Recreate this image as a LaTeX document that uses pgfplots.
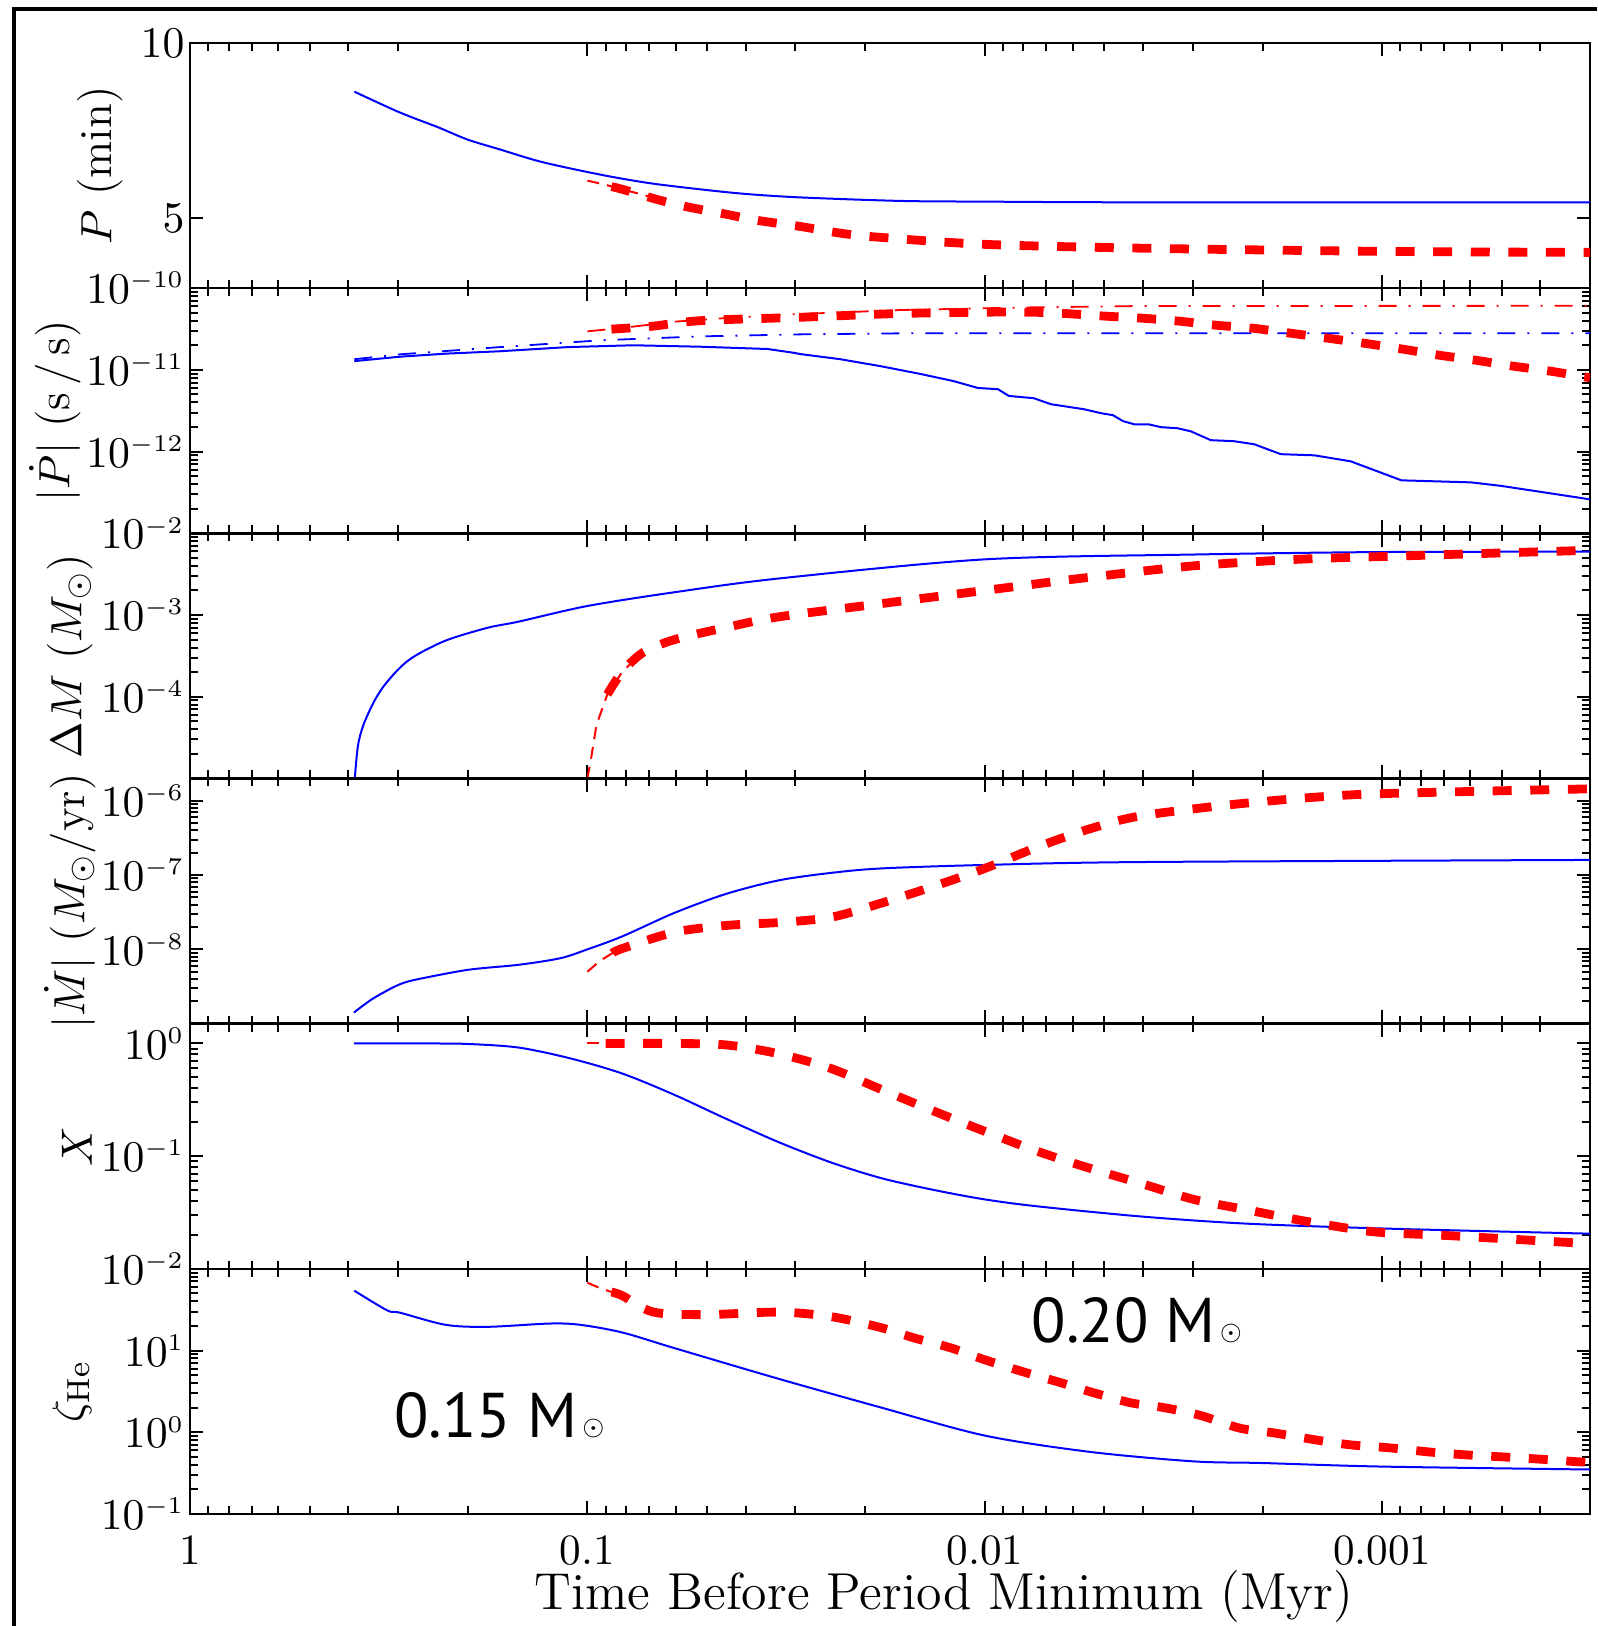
\documentclass[border=0pt]{standalone}
\usepackage{fontspec}
\usepackage{pgfplots}
\pgfplotsset{compat=1.18}
\newfontfamily\annfont{PT Sans}
\DeclareMathSizes{10.8}{10.8}{6.5}{5}

\tikzset{
 blueline/.style={blue, line width=0.5pt},
 bluedd/.style={blue, line width=0.45pt, dash pattern=on 4.5pt off 3pt on 0.5pt off 3pt},
 reddd/.style={red, line width=0.45pt, dash pattern=on 4.5pt off 3pt on 0.5pt off 3pt},
 redthick/.style={red, line width=2.2pt, dash pattern=on 4.75pt off 4.65pt},
 redthin/.style={red, line width=0.5pt, dash pattern=on 3pt off 2pt},
}
\pgfplotsset{
 stackpanel/.style={
  x dir=reverse, xmin=3e-4, xmax=1,
  scale only axis, width=350pt, height=61.29pt,
  tick align=inside,
  axis line style={line width=0.6pt},
  every tick/.style={black, line width=0.5pt},
  major tick length=3.3pt, minor tick length=2pt,
  xtick={1,0.1,0.01,0.001}, xticklabels={},
  minor xtick={0.2,0.3,0.4,0.5,0.6,0.7,0.8,0.9,0.02,0.03,0.04,0.05,0.06,0.07,0.08,0.09,0.002,0.003,0.004,0.005,0.006,0.007,0.008,0.009,0.0003,0.0004,0.0005,0.0006,0.0007,0.0008,0.0009},
  tick label style={font=\fontsize{10.8}{12}\selectfont},
  yticklabel style={inner sep=1.2pt},
  xticklabel style={yshift=-1.8pt},
  ylabel style={font=\fontsize{11.4}{13}\selectfont, anchor=center},
 },
}

\begin{document}
\begin{tikzpicture}
\useasboundingbox (0,0) rectangle (399.25pt,406.5pt);
\draw[line width=0.8pt] (3.5pt,0) -- (3.5pt,404.25pt) -- (399.25pt,404.25pt);

% Panel 1: P
\begin{semilogxaxis}[stackpanel, name=p1, at={(47.5pt,395.75pt)}, anchor=north west,
  ymin=3, ymax=10, ytick={5,10}, ylabel={$P$ (min)},
  ylabel style={at={(axis description cs:-0.0643,0.5)}}]
\addplot[blueline, smooth] coordinates {(0.386,8.61) (0.34,8.32) (0.30,8.04) (0.271,7.84) (0.236,7.58) (0.2,7.24) (0.166,6.96) (0.13,6.6) (0.0927,6.24) (0.07,6.0) (0.0519,5.82) (0.04,5.69) (0.0291,5.59) (0.0163,5.49) (0.01,5.47) (0.004,5.45) (0.0003,5.45)};
\addplot[redthin] coordinates {(0.1,6.07) (0.09,5.95) (0.0816,5.82) (0.07,5.62)};
\addplot[redthick, smooth] coordinates {(0.087,5.9) (0.0816,5.82) (0.0667,5.53) (0.0566,5.33) (0.0457,5.13) (0.0371,4.93) (0.0291,4.76) (0.0228,4.56) (0.0183,4.45) (0.01,4.25) (0.004,4.14) (0.001,4.05) (0.0003,4.02)};
\end{semilogxaxis}

% Panel 2: |Pdot|
\begin{loglogaxis}[stackpanel, name=p2, at={(p1.south west)}, anchor=north west,
  ymin=1e-13, ymax=1e-10, ytick={1e-13,1e-12,1e-11,1e-10},
  yticklabels={{},$10^{-12}$,$10^{-11}$,$10^{-10}$},
  ylabel={$|\dot{P}|$ (s\,/\,s)},
  ylabel style={at={(axis description cs:-0.0964,0.5)}}]
\addplot[blueline] coordinates {(0.386,1.28e-11) (0.296,1.45e-11) (0.227,1.58e-11) (0.166,1.69e-11) (0.112,1.9e-11) (0.0766,2.0e-11) (0.0519,1.92e-11) (0.0352,1.8e-11) (0.0303,1.62e-11) (0.0291,1.56e-11) (0.0231,1.35e-11) (0.0183,1.11e-11) (0.0145,8.9e-12) (0.012,7.3e-12) (0.0104,6.0e-12) (0.00927,5.8e-12) (0.0087,4.8e-12) (0.00753,4.5e-12) (0.00682,3.8e-12) (0.00563,3.3e-12) (0.0051,2.95e-12) (0.00476,2.79e-12) (0.00449,2.36e-12) (0.00421,2.16e-12) (0.00388,2.16e-12) (0.0036,1.99e-12) (0.00327,1.93e-12) (0.00303,1.77e-12) (0.0027,1.38e-12) (0.00236,1.34e-12) (0.0021,1.23e-12) (0.0018,9.3e-13) (0.00148,9.0e-13) (0.0012,7.6e-13) (0.000895,4.45e-13) (0.000597,4.2e-13) (0.000501,3.8e-13) (0.000315,2.7e-13) (0.0003,2.6e-13)};
\addplot[bluedd] coordinates {(0.386,1.35e-11) (0.296,1.55e-11) (0.166,1.9e-11) (0.0927,2.3e-11) (0.0519,2.57e-11) (0.0291,2.72e-11) (0.0163,2.8e-11) (0.0003,2.81e-11)};
\addplot[reddd] coordinates {(0.1,2.96e-11) (0.08,3.3e-11) (0.06,3.9e-11) (0.045,4.3e-11) (0.03,4.8e-11) (0.0163,5.4e-11) (0.008,5.8e-11) (0.004,6.05e-11) (0.0003,6.08e-11)};
\addplot[redthick, smooth] coordinates {(0.087,3.15e-11) (0.0694,3.4e-11) (0.0519,4.0e-11) (0.0291,4.4e-11) (0.0163,4.9e-11) (0.00912,5.1e-11) (0.00682,5.0e-11) (0.00496,4.54e-11) (0.00405,4.3e-11) (0.00325,3.95e-11) (0.00262,3.52e-11) (0.00211,3.23e-11) (0.00169,2.8e-11) (0.00137,2.44e-11) (0.00111,2.12e-11) (0.000885,1.79e-11) (0.000718,1.51e-11) (0.00058,1.31e-11) (0.000468,1.11e-11) (0.000375,9.6e-12) (0.0003,8.0e-12)};
\end{loglogaxis}

% Panel 3: Delta M
\begin{loglogaxis}[stackpanel, name=p3, at={(p2.south west)}, anchor=north west,
  ymin=1e-5, ymax=1e-2, ytick={1e-5,1e-4,1e-3,1e-2},
  yticklabels={{},$10^{-4}$,$10^{-3}$,$10^{-2}$},
  ylabel={$\Delta M$ ($M_\odot$)},
  ylabel style={at={(axis description cs:-0.0857,0.5)}}]
\addplot[blueline, smooth] coordinates {(0.385,1e-5) (0.378,2.5e-5) (0.3665,4.47e-5) (0.3453,8.5e-5) (0.325,1.36e-4) (0.297,2.24e-4) (0.2716,3.16e-4) (0.2266,4.9e-4) (0.178,7.0e-4) (0.149,8.3e-4) (0.1,1.29e-3) (0.0604,1.9e-3) (0.033,2.8e-3) (0.01,4.8e-3) (0.00298,5.5e-3) (0.001,5.9e-3) (0.0003,5.95e-3)};
\addplot[redthin] coordinates {(0.1,1e-5) (0.0977,1.86e-5) (0.0949,4.5e-5) (0.0891,1.07e-4) (0.0816,2.04e-4) (0.075,3e-4)};
\addplot[redthick, smooth] coordinates {(0.0891,1.07e-4) (0.0816,2.04e-4) (0.0723,3.5e-4) (0.0604,5.0e-4) (0.045,7e-4) (0.033,9.5e-4) (0.0182,1.38e-3) (0.01,2.0e-3) (0.00544,2.9e-3) (0.00298,4.0e-3) (0.00164,4.8e-3) (0.001,5.2e-3) (0.0003,6.2e-3)};
\end{loglogaxis}

% Panel 4: |Mdot|
\begin{loglogaxis}[stackpanel, name=p4, at={(p3.south west)}, anchor=north west,
  ymin=1e-9, ymax=2e-6, ytick={1e-9,1e-8,1e-7,1e-6},
  yticklabels={{},$10^{-8}$,$10^{-7}$,$10^{-6}$},
  ylabel={$|\dot{M}|$ ($M_\odot$/yr)},
  ylabel style={at={(axis description cs:-0.0857,0.5)}}]
\addplot[blueline, smooth] coordinates {(0.387,1.41e-9) (0.35,2.1e-9) (0.315,2.9e-9) (0.296,3.4e-9) (0.271,3.9e-9) (0.2,5.3e-9) (0.149,6.2e-9) (0.117,7.6e-9) (0.1,1.0e-8) (0.0816,1.5e-8) (0.0604,3.1e-8) (0.0447,5.6e-8) (0.033,8.5e-8) (0.0244,1.07e-7) (0.0182,1.23e-7) (0.01,1.37e-7) (0.004,1.5e-7) (0.0003,1.6e-7)};
\addplot[redthin] coordinates {(0.1,5.0e-9) (0.093,7e-9) (0.0865,8.9e-9) (0.08,1.05e-8)};
\addplot[redthick, smooth] coordinates {(0.0865,8.9e-9) (0.0816,1.03e-8) (0.0604,1.7e-8) (0.0447,2.1e-8) (0.033,2.3e-8) (0.0244,2.7e-8) (0.0182,4.2e-8) (0.0134,7.1e-8) (0.01,1.23e-7) (0.00735,2.4e-7) (0.00544,4.2e-7) (0.00403,6.3e-7) (0.00221,9.3e-7) (0.00121,1.2e-6) (0.000662,1.32e-6) (0.0003,1.45e-6)};
\end{loglogaxis}

% Panel 5: X
\begin{loglogaxis}[stackpanel, name=p5, at={(p4.south west)}, anchor=north west,
  ymin=1e-2, ymax=1.5, ytick={1e-2,1e-1,1},
  yticklabels={$10^{-2}$,$10^{-1}$,$10^{0}$},
  ylabel={$X$},
  ylabel style={at={(axis description cs:-0.0807,0.5)}}]
\addplot[blueline, smooth] coordinates {(0.387,1.0) (0.25,1.0) (0.2,0.99) (0.149,0.92) (0.11,0.735) (0.0816,0.54) (0.0604,0.35) (0.0447,0.214) (0.033,0.133) (0.0244,0.088) (0.0182,0.0637) (0.0134,0.050) (0.01,0.0413) (0.00735,0.0358) (0.00403,0.0291) (0.00221,0.0252) (0.001,0.0228) (0.0003,0.0205)};
\addplot[redthin] coordinates {(0.1,1.0) (0.085,1.0)};
\addplot[redthick, smooth] coordinates {(0.09,1.0) (0.0604,1.0) (0.0447,0.97) (0.033,0.81) (0.0244,0.60) (0.0182,0.39) (0.0134,0.25) (0.01,0.166) (0.00735,0.11) (0.00544,0.078) (0.00403,0.057) (0.00298,0.0413) (0.00221,0.0336) (0.00164,0.0273) (0.00121,0.0228) (0.001,0.021) (0.000662,0.0196) (0.0003,0.0167)};
\end{loglogaxis}

% Panel 6: zeta_He
\begin{loglogaxis}[stackpanel, name=p6, at={(p5.south west)}, anchor=north west,
  ymin=0.1, ymax=100, ytick={0.1,1,10,100},
  yticklabels={$10^{-1}$,$10^{0}$,$10^{1}$,{}},
  xticklabels={1,0.1,0.01,0.001},
  ylabel={$\zeta_{\mathrm{He}}$},
  ylabel style={at={(axis description cs:-0.0843,0.5)}},
  xlabel={Time Before Period Minimum (Myr)},
  xlabel style={font=\fontsize{13}{15}\selectfont, at={(axis description cs:0.5386,0)}, anchor=base, yshift=-24pt}]
\addplot[blueline, smooth] coordinates {(0.386,54) (0.319,31) (0.296,29) (0.227,20.6) (0.178,19.5) (0.124,21.4) (0.104,20.6) (0.0816,16.6) (0.0604,10.7) (0.033,4.5) (0.0182,2.0) (0.01,0.91) (0.00544,0.575) (0.00298,0.44) (0.002,0.42) (0.001,0.38) (0.0003,0.35)};
\addplot[redthin] coordinates {(0.1,67.6) (0.093,58) (0.087,52) (0.08,44)};
\addplot[redthick, smooth] coordinates {(0.087,52) (0.0816,46.8) (0.0682,29.5) (0.0505,27.5) (0.033,29.5) (0.0244,26) (0.0182,19) (0.0151,14.3) (0.0122,10.8) (0.01,7.7) (0.00802,5.5) (0.00655,4.14) (0.00531,3.03) (0.00429,2.29) (0.00354,2.0) (0.00286,1.6) (0.00228,1.12) (0.00187,0.98) (0.00148,0.81) (0.0012,0.70) (0.00096,0.645) (0.000766,0.575) (0.000621,0.53) (0.000501,0.50) (0.000405,0.47) (0.000321,0.435) (0.0003,0.43)};
\node[anchor=base west, inner sep=0pt, font=\annfont\fontsize{15.8}{19}\selectfont] at (axis cs:0.00766,12.4) {0.20 M\hspace{1pt}\raisebox{0.75pt}{\fontsize{6.5}{8}\selectfont$\odot$}};
\node[anchor=base west, inner sep=0pt, font=\annfont\fontsize{15.8}{19}\selectfont] at (axis cs:0.308,0.853) {0.15 M\hspace{1pt}\raisebox{0.75pt}{\fontsize{6.5}{8}\selectfont$\odot$}};
\end{loglogaxis}
\end{tikzpicture}
\end{document}
